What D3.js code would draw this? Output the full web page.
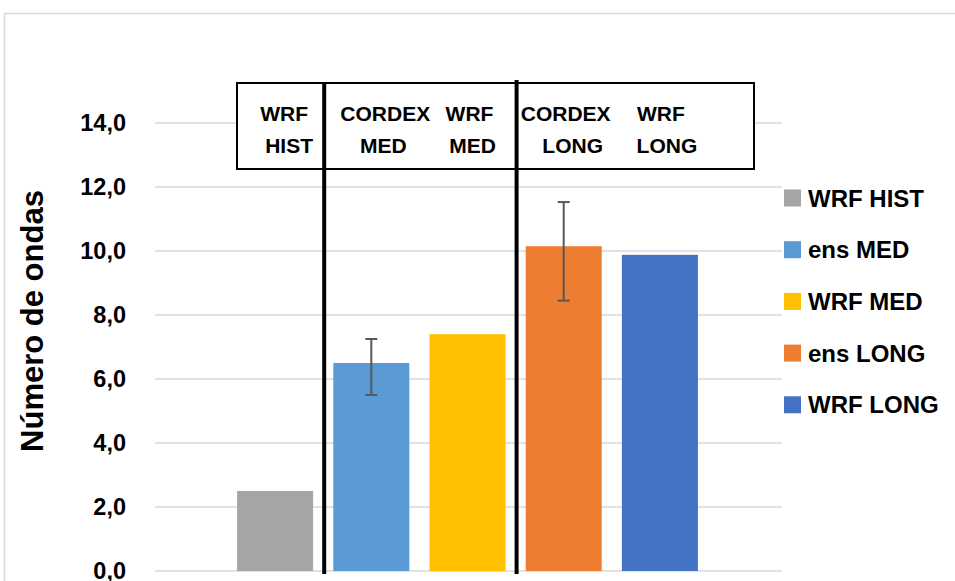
<!DOCTYPE html>
<html><head><meta charset="utf-8">
<script src="https://cdn.jsdelivr.net/npm/d3@7"></script>
<style>body{margin:0;background:#fff}svg{display:block}text{font-family:"Liberation Sans",Arial,sans-serif;font-weight:bold;fill:#000}</style>
</head><body>
<script>
const series = ["WRF HIST","ens MED","WRF MED","ens LONG","WRF LONG"];
const values = [2.5, 6.5, 7.4, 10.15, 9.88];
const errLow = [null, 5.5, null, 8.45, null];
const errHigh = [null, 7.25, null, 11.53, null];
const colors = ["#a5a5a5","#5b9bd5","#ffc000","#ed7d31","#4472c4"];
const boxLine1 = ["WRF","CORDEX","WRF","CORDEX","WRF"];
const boxLine2 = ["HIST","MED","MED","LONG","LONG"];
const yTicks = [0,2,4,6,8,10,12,14];
const yTitle = "Número de ondas";

const W=955,H=581;
const svg=d3.select("body").append("svg").attr("width",W).attr("height",H);
svg.append("rect").attr("x",4.5).attr("y",13.5).attr("width",1000).attr("height",1000).attr("fill","#fff").attr("stroke","#d9d9d9").attr("stroke-width",1.5);

const plotL=155, plotR=782;
const y=d3.scaleLinear().domain([0,14]).range([571,123]);
const x=d3.scaleBand().domain(series).range([227,708]).paddingInner(0.21).paddingOuter(0.105);
const bw=x.bandwidth();

// gridlines
svg.append("g").selectAll("line").data(yTicks).join("line")
  .attr("x1",plotL).attr("x2",plotR).attr("y1",d=>y(d)).attr("y2",d=>y(d))
  .attr("stroke","#d9d9d9").attr("stroke-width",1.5);
// tick labels
svg.append("g").selectAll("text").data(yTicks).join("text")
  .attr("x",126).attr("y",d=>y(d)).attr("dy","0.36em").attr("text-anchor","end")
  .attr("font-size",23.5).text(d=>d3.format(".1f")(d).replace(".",","));
// y title
svg.append("text").attr("transform","translate(43,321) rotate(-90)").attr("text-anchor","middle")
  .attr("font-size",31).text(yTitle);

// bars
svg.append("g").selectAll("rect").data(series).join("rect")
  .attr("x",d=>x(d)).attr("width",bw)
  .attr("y",(d,i)=>y(values[i])).attr("height",(d,i)=>y(0)-y(values[i]))
  .attr("fill",(d,i)=>colors[i]);

// error bars
const eg=svg.append("g").attr("stroke","#595959").attr("stroke-width",2);
series.forEach((s,i)=>{
  if(errLow[i]==null) return;
  const cx=x(s)+bw/2;
  eg.append("line").attr("x1",cx).attr("x2",cx).attr("y1",y(errLow[i])).attr("y2",y(errHigh[i]));
  [errLow[i],errHigh[i]].forEach(v=>eg.append("line").attr("x1",cx-6).attr("x2",cx+6).attr("y1",y(v)).attr("y2",y(v)));
});

// label box
const boxT=83, boxB=169;
svg.append("rect").attr("x",237).attr("y",boxT).attr("width",754-237).attr("height",boxB-boxT)
  .attr("fill","#fff").attr("stroke","#000").attr("stroke-width",2);
const gap=x.step()-bw;
const seps=[series[0],series[2]].map(s=>x(s)+bw+gap/2+1);
svg.append("g").selectAll("line").data(seps).join("line")
  .attr("x1",d=>d).attr("x2",d=>d).attr("y1",(d,i)=>i==0?83:80).attr("y2",574)
  .attr("stroke","#000").attr("stroke-width",4);
const dx1=[9,14,2,2,1], dx2=[14,12,5,9,7];
svg.append("g").selectAll("text").data(series).join("text")
  .attr("x",(d,i)=>x(d)+bw/2+dx1[i]).attr("y",113).attr("dy","0.36em").attr("text-anchor","middle")
  .attr("font-size",21).text((d,i)=>boxLine1[i]);
svg.append("g").selectAll("text").data(series).join("text")
  .attr("x",(d,i)=>x(d)+bw/2+dx2[i]).attr("y",145).attr("dy","0.36em").attr("text-anchor","middle")
  .attr("font-size",21).text((d,i)=>boxLine2[i]);

// legend
const lg=svg.append("g").selectAll("g").data(series).join("g")
  .attr("transform",(d,i)=>`translate(784,${198+i*51.7})`);
lg.append("rect").attr("x",0).attr("y",-8.5).attr("width",17).attr("height",17).attr("fill",(d,i)=>colors[i]);
lg.append("text").attr("x",24).attr("y",0).attr("dy","0.36em").attr("font-size",24).text(d=>d);
</script>
</body></html>
